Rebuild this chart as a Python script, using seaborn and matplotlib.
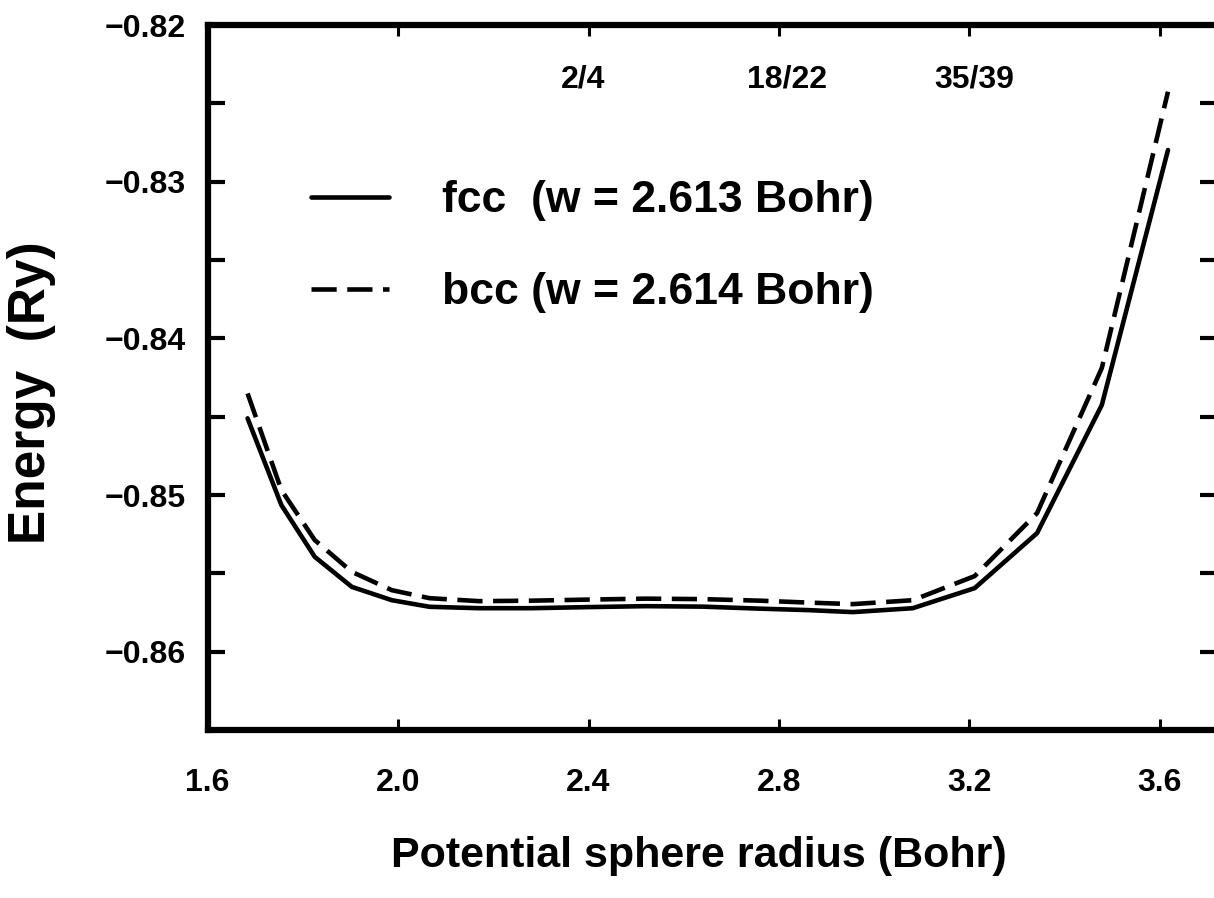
import numpy as np
import pandas as pd
import matplotlib.pyplot as plt
import seaborn as sns
from matplotlib.ticker import MultipleLocator

# Potential sphere radius (Bohr) and total energies (Ry)
radius = [1.684, 1.755, 1.825, 1.903, 1.987, 2.066, 2.17, 2.28, 2.40, 2.52,
          2.64, 2.76, 2.86, 2.955, 3.081, 3.211, 3.342, 3.478, 3.617]
e_fcc = [-0.84510, -0.85064, -0.85394, -0.85586, -0.85671, -0.85713, -0.85722,
         -0.85722, -0.85715, -0.85709, -0.85712, -0.85725, -0.85734, -0.85747,
         -0.85722, -0.85594, -0.85243, -0.84425, -0.82797]
e_bcc = [-0.84351, -0.84968, -0.85287, -0.85490, -0.85607, -0.85658, -0.85677,
         -0.85674, -0.85667, -0.85661, -0.85664, -0.85674, -0.85686, -0.85696,
         -0.85671, -0.85517, -0.85115, -0.84189, -0.82425]

fcc_label = 'fcc  (w = 2.613 Bohr)'
bcc_label = 'bcc (w = 2.614 Bohr)'

# labels above the curves
top_labels = ['2/4', '18/22', '35/39']
top_x = [2.388, 2.816, 3.211]
top_y = -0.8235

xticks = [1.6, 2.0, 2.4, 2.8, 3.2, 3.6]

df = pd.DataFrame({'r': radius, 'fcc': e_fcc, 'bcc': e_bcc})

sns.set_style('white')
plt.rcParams['font.family'] = ['Liberation Sans', 'DejaVu Sans']
plt.rcParams['font.weight'] = 'bold'
plt.rcParams['text.color'] = 'black'
plt.rcParams['axes.labelcolor'] = 'black'
plt.rcParams['xtick.color'] = 'black'
plt.rcParams['ytick.color'] = 'black'

fig = plt.figure(figsize=(12.14, 8.98), dpi=100)
ax = fig.add_axes([0.171, 0.187, 0.8315, 0.785])

sns.lineplot(data=df, x='r', y='fcc', color='black', linewidth=3.3,
             label=fcc_label, ax=ax)
sns.lineplot(data=df, x='r', y='bcc', color='black', linewidth=3.3,
             linestyle=(0, (5.5, 2.3)), label=bcc_label, ax=ax)

ax.set_xlim(1.6, 3.72)
ax.set_ylim(-0.865, -0.82)
ax.set_xticks(xticks)
ax.set_xticklabels([f'{t:.1f}' for t in xticks])
ax.yaxis.set_major_locator(MultipleLocator(0.01))
ax.yaxis.set_minor_locator(MultipleLocator(0.005))
ax.yaxis.set_major_formatter(lambda v, p: f'{v:.2f}'.replace('-', '\u2212'))

for s in ax.spines.values():
    s.set_linewidth(4.5)
    s.set_color('black')

ax.tick_params(axis='x', which='both', direction='in', top=True, bottom=True,
               length=8, width=2.2, pad=27, labelsize=23)
ax.tick_params(axis='y', which='both', direction='in', left=True, right=True,
               length=12, width=3, pad=16, labelsize=23)

for lab, xv in zip(top_labels, top_x):
    ax.text(xv, top_y, lab, ha='center', va='center', fontsize=23,
            fontweight='bold')

ax.set_xlabel('Potential sphere radius (Bohr)', fontsize=31, fontweight='bold')
ax.set_ylabel('Energy  (Ry)', fontsize=37, fontweight='bold')
ax.xaxis.set_label_coords(0.487, -0.15)
ax.yaxis.set_label_coords(-0.15, 0.478)

leg = ax.legend(loc='upper left', bbox_to_anchor=(0.085, 0.805), frameon=False,
                fontsize=32, handlelength=1.75, handletextpad=1.2,
                labelspacing=1.15, borderaxespad=0)
for t in leg.get_texts():
    t.set_fontweight('bold')

fig.savefig('out.png', dpi=100)
